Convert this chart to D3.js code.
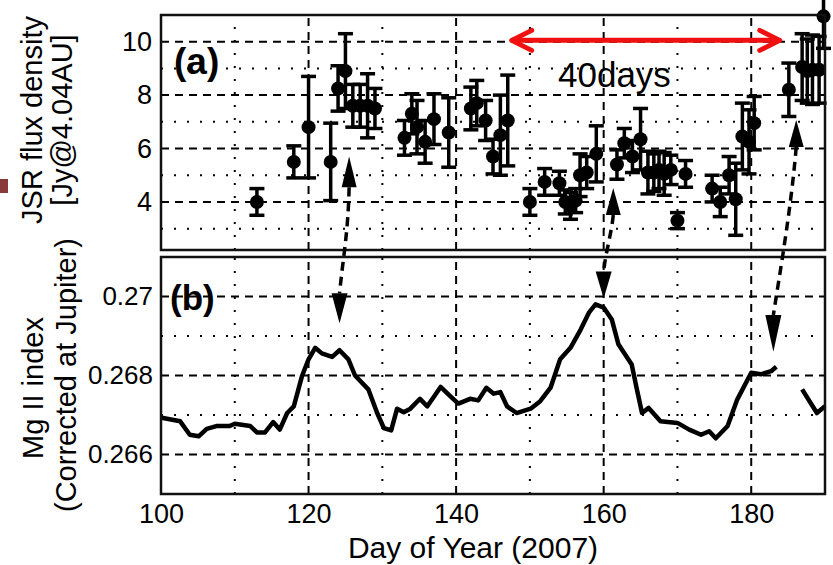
<!DOCTYPE html>
<html>
<head>
<meta charset="utf-8">
<script src="https://cdn.jsdelivr.net/npm/d3@7"></script>
<style>
  body { margin: 0; background: #fff; }
  svg { display: block; font-family: Arial, "Liberation Sans", sans-serif; }
</style>
</head>
<body>
<div id="container"></div>
<script>
/**
 * DATA
 * */
// (a) JSR flux density [Jy@4.04AU] with error bars
const jsrDays = [113, 118, 120, 123, 124, 125, 126, 127, 128, 129,
                 133, 134, 134.7, 135.8, 137, 139, 142, 142.8, 144, 145, 146, 147,
                 150, 152, 154, 154.8, 155.5, 156.2, 156.8, 157.7, 159,
                 161.8, 162.8, 163.9, 165, 166, 166.8, 167.5, 168.2, 169.1, 170, 171.1,
                 174.7, 175.8, 177, 177.9, 178.8, 179.7, 180.4,
                 185.1, 186.9, 187.6, 188.3, 189.2, 189.8];
const jsrFlux = [4.0, 5.5, 6.8, 5.5, 8.25, 8.9, 7.6, 7.6, 7.6, 7.5,
                 6.4, 7.3, 6.8, 6.25, 7.1, 6.6, 7.5, 7.7, 7.05, 5.7, 6.5, 7.05,
                 4.0, 4.75, 4.7, 4.0, 3.85, 4.05, 5.0, 5.1, 5.8,
                 5.4, 6.2, 5.7, 6.35, 5.1, 5.1, 5.2, 5.05, 5.2, 3.3, 5.05,
                 4.5, 4.0, 5.0, 4.1, 6.45, 6.25, 6.95,
                 8.2, 9.05, 8.9, 8.95, 8.95, 10.95];
const jsrErr  = [0.5, 0.6, 1.9, 1.45, 0.85, 1.4, 0.8, 0.8, 1.2, 0.75,
                 0.65, 0.75, 1.0, 0.8, 0.95, 1.3, 0.8, 0.85, 0.75, 0.65, 1.5, 1.7,
                 0.5, 0.5, 0.45, 0.45, 0.5, 0.45, 0.8, 0.6, 1.05,
                 0.55, 0.55, 0.6, 1.15, 0.8, 0.7, 0.7, 0.8, 0.55, 0.3, 0.5,
                 0.5, 0.55, 0.7, 1.35, 1.25, 1.2, 1.0,
                 1.0, 1.25, 1.2, 1.3, 1.25, 1.2];

// (b) Mg II index (corrected at Jupiter), null = no data
const mgDays  = [100.1, 102.6, 103.9, 105.1, 106.2, 107.5, 109.3, 110.0, 112.1, 113.0,
                 114.1, 115.2, 116.1, 117.1, 118.0, 119.1, 120.0, 120.9, 121.8, 123.2,
                 124.2, 125.4, 126.3, 128.1, 129.3, 130.2, 131.2, 132.0, 132.9, 133.8,
                 135.1, 136.1, 137.9, 139.2, 140.3, 141.9, 143.0, 144.1, 145.1, 146.0,
                 146.9, 148.2, 150.1, 151.4, 152.8, 154.1, 155.5, 156.9, 158.0, 158.9,
                 160.0, 161.1, 162.0, 163.8, 164.5, 165.2, 166.1, 167.7, 170.0, 171.6,
                 173.2, 174.3, 175.2, 176.8, 178.1, 180.0, 181.3, 182.7, 183.4, 185.0,
                 186.9, 188.9, 190.0];
const mgIndex = [0.26693, 0.26684, 0.26650, 0.26646, 0.26665, 0.26672, 0.26672, 0.26678, 0.26672, 0.26656,
                 0.26656, 0.26682, 0.26663, 0.26705, 0.26722, 0.26798, 0.26841, 0.26870, 0.26856, 0.26847,
                 0.26864, 0.26841, 0.26800, 0.26765, 0.26705, 0.26667, 0.26661, 0.26716, 0.26707, 0.26716,
                 0.26741, 0.26722, 0.26771, 0.26748, 0.26729, 0.26741, 0.26737, 0.26769, 0.26754, 0.26758,
                 0.26722, 0.26705, 0.26716, 0.26735, 0.26769, 0.26841, 0.26870, 0.26917, 0.26959, 0.26980,
                 0.26972, 0.26942, 0.26879, 0.26828, 0.26765, 0.26705, 0.26718, 0.26684, 0.26680, 0.26663,
                 0.26650, 0.26659, 0.26641, 0.26672, 0.26739, 0.26807, 0.26803, 0.26811, 0.26822, null,
                 0.26765, 0.26705, 0.26722];

// ticks
const xTicks = [100, 120, 140, 160, 180];
const xMinor = [110, 130, 150, 170];
const jsrTicks = [4, 6, 8, 10];
const jsrMinor = [3, 5, 7, 9];
const mgTicks = [0.266, 0.268, 0.27];
const mgMinor = [0.267, 0.269];

// 40-day period marker (red) and linking arrows (day / value at each end)
const periodSpan = [147.4, 184.0];
const periodLevel = 10.05;
const linkTopDay  = [125.5, 161.3, 186.1];
const linkTopTip  = [5.7, 4.52, 7.07];
const linkTopBase = [4.55, 3.51, 6.06];
const linkBotDay  = [124.2, 160.0, 183.0];
const linkBotTip  = [0.26932, 0.26995, 0.2686];
const linkBotBase = [0.27008, 0.27063, 0.26953];

/**
 * LAYOUT
 * */
const width = 833, height = 565;

const xScale = d3.scaleLinear().domain([100, 190]).range([161, 825]);
const yTop = d3.scaleLinear().domain([2.2, 11]).range([250, 15]);
const yBot = d3.scaleLinear().domain([0.265, 0.271]).range([494, 257]);

const svg = d3.select("#container")
  .append("svg")
  .attr("width", width)
  .attr("height", height);

// small slide marker at left edge
svg.append("rect")
  .attr("x", 0).attr("y", 179)
  .attr("width", 8).attr("height", 14)
  .attr("fill", "#8b3a3a");

function drawGrid(yScale, major, minor) {
  const [y0, y1] = yScale.range();
  const [x0, x1] = xScale.range();
  const g = svg.append("g").attr("class", "grid");

  // dotted minor lines
  g.selectAll("line.vmin").data(xMinor).join("line")
    .attr("class", "vmin")
    .attr("x1", d => xScale(d)).attr("x2", d => xScale(d))
    .attr("y1", y0).attr("y2", y1)
    .attr("stroke", "#000").attr("stroke-width", 2)
    .attr("stroke-dasharray", "2,11");
  g.selectAll("line.hmin").data(minor).join("line")
    .attr("class", "hmin")
    .attr("x1", x0).attr("x2", x1)
    .attr("y1", d => yScale(d)).attr("y2", d => yScale(d))
    .attr("stroke", "#000").attr("stroke-width", 2)
    .attr("stroke-dasharray", "2,11");

  // dashed major lines
  g.selectAll("line.vmaj").data(xTicks.slice(1)).join("line")
    .attr("class", "vmaj")
    .attr("x1", d => xScale(d)).attr("x2", d => xScale(d))
    .attr("y1", y0).attr("y2", y1)
    .attr("stroke", "#000").attr("stroke-width", 2)
    .attr("stroke-dasharray", "8,6");
  g.selectAll("line.hmaj").data(major).join("line")
    .attr("class", "hmaj")
    .attr("x1", x0).attr("x2", x1)
    .attr("y1", d => yScale(d)).attr("y2", d => yScale(d))
    .attr("stroke", "#000").attr("stroke-width", 2)
    .attr("stroke-dasharray", "8,6");
}

function drawFrame(yScale) {
  const [y0, y1] = yScale.range();
  const [x0, x1] = xScale.range();
  svg.append("rect")
    .attr("x", x0).attr("y", y1)
    .attr("width", x1 - x0).attr("height", y0 - y1)
    .attr("fill", "none")
    .attr("stroke", "#111")
    .attr("stroke-width", 2.5);
}

drawGrid(yTop, jsrTicks, jsrMinor);
drawGrid(yBot, mgTicks, mgMinor);

// y axes (labels only, MATLAB style)
const tickFont = "27px";
svg.append("g")
  .attr("transform", `translate(${xScale.range()[0]},0)`)
  .call(d3.axisLeft(yTop).tickValues(jsrTicks).tickSize(0).tickPadding(9))
  .call(g => g.select(".domain").remove())
  .selectAll("text").style("font-size", tickFont).attr("fill", "#000");

svg.append("g")
  .attr("transform", `translate(${xScale.range()[0]},0)`)
  .call(d3.axisLeft(yBot).tickValues(mgTicks).tickSize(0).tickPadding(8).tickFormat(d => String(d)))
  .call(g => g.select(".domain").remove())
  .selectAll("text").style("font-size", "26px").attr("fill", "#000");

svg.append("g")
  .attr("transform", `translate(0,${yBot.range()[0]})`)
  .call(d3.axisBottom(xScale).tickValues(xTicks).tickSize(0).tickPadding(10))
  .call(g => g.select(".domain").remove())
  .selectAll("text").style("font-size", tickFont).attr("fill", "#000");

/**
 * (a) error bars
 * */
const jsr = jsrDays.map((d, i) => ({ day: d, v: jsrFlux[i], e: jsrErr[i] }));
const capW = 7.5;
const bars = svg.append("g").attr("class", "errorbars")
  .attr("stroke", "#000").attr("stroke-width", 3.5);

bars.selectAll("line.stem").data(jsr).join("line")
  .attr("class", "stem")
  .attr("x1", d => xScale(d.day)).attr("x2", d => xScale(d.day))
  .attr("y1", d => yTop(d.v - d.e)).attr("y2", d => yTop(d.v + d.e));
bars.selectAll("line.capHi").data(jsr).join("line")
  .attr("class", "capHi")
  .attr("x1", d => xScale(d.day) - capW).attr("x2", d => xScale(d.day) + capW)
  .attr("y1", d => yTop(d.v + d.e)).attr("y2", d => yTop(d.v + d.e));
bars.selectAll("line.capLo").data(jsr).join("line")
  .attr("class", "capLo")
  .attr("x1", d => xScale(d.day) - capW).attr("x2", d => xScale(d.day) + capW)
  .attr("y1", d => yTop(d.v - d.e)).attr("y2", d => yTop(d.v - d.e));

svg.append("g").selectAll("circle").data(jsr).join("circle")
  .attr("cx", d => xScale(d.day))
  .attr("cy", d => yTop(d.v))
  .attr("r", 7)
  .attr("fill", "#000");

/**
 * (b) Mg II line
 * */
const mg = mgDays.map((d, i) => ({ day: d, v: mgIndex[i] }));
const lineGen = d3.line()
  .defined(d => d.v !== null)
  .x(d => xScale(d.day))
  .y(d => yBot(d.v));

svg.append("path")
  .datum(mg)
  .attr("d", lineGen)
  .attr("fill", "none")
  .attr("stroke", "#000")
  .attr("stroke-width", 4.5)
  .attr("stroke-linejoin", "round");

drawFrame(yTop);
drawFrame(yBot);

/**
 * ANNOTATIONS
 * */
svg.append("text")
  .attr("x", 174).attr("y", 74)
  .style("font-size", "37px").style("font-weight", "bold")
  .text("(a)");
svg.append("text")
  .attr("x", 170).attr("y", 310)
  .style("font-size", "35px").style("font-weight", "bold")
  .text("(b)");

// 40 days double arrow
const redY = yTop(periodLevel);
const rx0 = xScale(periodSpan[0]), rx1 = xScale(periodSpan[1]);
const red = svg.append("g")
  .attr("stroke", "#f01010").attr("stroke-width", 5)
  .attr("fill", "none").attr("stroke-linecap", "round").attr("stroke-linejoin", "round");
red.append("line").attr("x1", rx0 + 2).attr("x2", rx1 - 2).attr("y1", redY).attr("y2", redY);
red.append("path").attr("d", `M${rx0 + 21},${redY - 10} L${rx0 + 1},${redY} L${rx0 + 21},${redY + 10}`);
red.append("path").attr("d", `M${rx1 - 21},${redY - 10} L${rx1 - 1},${redY} L${rx1 - 21},${redY + 10}`);

svg.append("text")
  .attr("x", 558).attr("y", 87)
  .style("font-size", "35px")
  .text("40days");

// dashed links between flux peaks and Mg II peaks
const links = linkTopDay.map((d, i) => ({
  tx: xScale(d), tTip: yTop(linkTopTip[i]), tBase: yTop(linkTopBase[i]),
  bx: xScale(linkBotDay[i]), bTip: yBot(linkBotTip[i]), bBase: yBot(linkBotBase[i])
}));
const bends = [[-1, 45, 4, -40], [-2, 20, 2, -20], [-5, 60, 7, -45]];

const linkG = svg.append("g");
links.forEach((l, i) => {
  const b = bends[i];
  linkG.append("path")
    .attr("d", `M${l.tx},${l.tBase} C${l.tx + b[0]},${l.tBase + b[1]} ${l.bx + b[2]},${l.bBase + b[3]} ${l.bx},${l.bBase}`)
    .attr("fill", "none")
    .attr("stroke", "#000")
    .attr("stroke-width", 3.5)
    .attr("stroke-dasharray", "9,6");
  // up arrow in panel (a)
  linkG.append("path")
    .attr("d", `M${l.tx},${l.tTip} L${l.tx - 7.5},${l.tBase} L${l.tx + 7.5},${l.tBase} Z`)
    .attr("fill", "#000");
  // down arrow in panel (b)
  linkG.append("path")
    .attr("d", `M${l.bx},${l.bTip} L${l.bx - 8},${l.bBase} L${l.bx + 8},${l.bBase} Z`)
    .attr("fill", "#000");
});

// axis titles
svg.append("text")
  .attr("transform", "translate(473,558)")
  .attr("text-anchor", "middle")
  .style("font-size", "30px")
  .text("Day of Year (2007)");

const yLabels = [
  { t: "JSR flux density", x: 42, y: 120 },
  { t: "[Jy@4.04AU]", x: 72, y: 120 },
  { t: "Mg II index", x: 43, y: 388 },
  { t: "(Corrected at Jupiter)", x: 76, y: 375 }
];
svg.selectAll("text.ylab").data(yLabels).join("text")
  .attr("class", "ylab")
  .attr("transform", d => `translate(${d.x},${d.y}) rotate(-90)`)
  .attr("text-anchor", "middle")
  .style("font-size", "29px")
  .text(d => d.t);
</script>
</body>
</html>
